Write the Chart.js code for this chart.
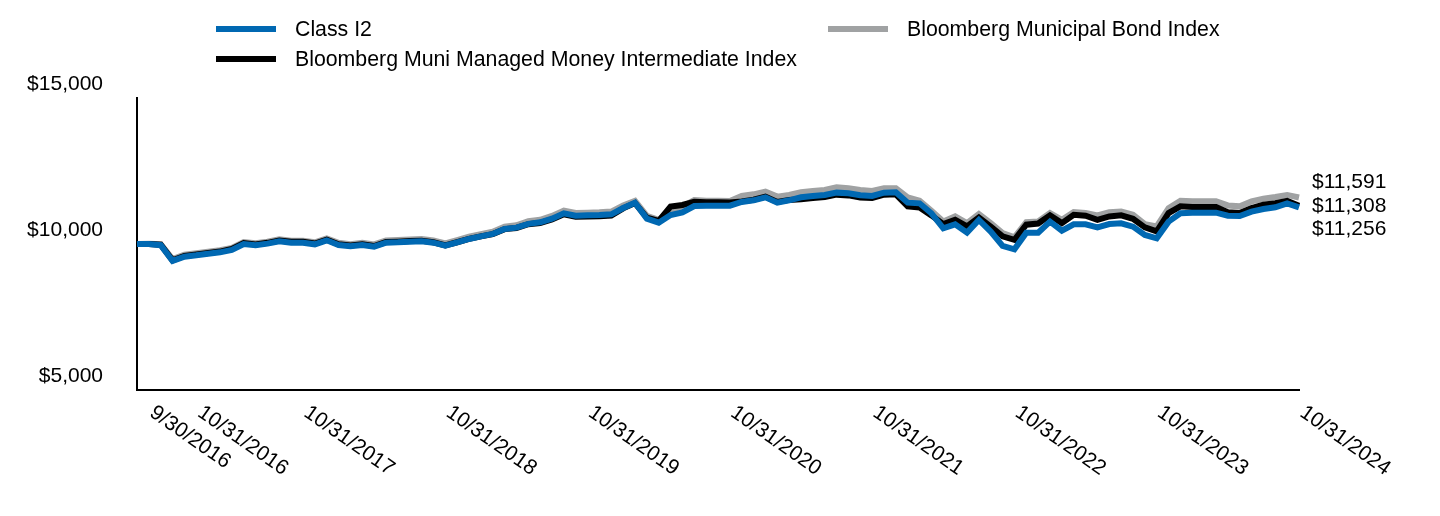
<!DOCTYPE html>
<html>
<head>
<meta charset="utf-8">
<script src="https://cdn.jsdelivr.net/npm/chart.js@4.4.1/dist/chart.umd.min.js"></script>
<style>
  body { margin: 0; background: #fff; font-family: "Liberation Sans", Arial, sans-serif; }
  #wrap { position: relative; width: 1440px; height: 516px; }
  #legend {
    position: absolute; left: 216px; top: 14px;
    display: grid; grid-auto-flow: column;
    grid-template-rows: 30px 30px; grid-template-columns: 612px auto;
  }
  .item { display: flex; align-items: center; height: 30px; font-size: 21.3px; color: #000; white-space: nowrap; }
  .swatch { width: 60px; height: 6px; margin-right: 19px; }
</style>
</head>
<body>
<div id="wrap">
  <canvas id="myChart" width="1440" height="516"></canvas>
  <div id="legend"></div>
</div>
<script>
// month-end dates, with the starting point in front
const categories = [''];
for (let y = 2016, m = 9; y < 2024 || (y === 2024 && m <= 10); ) {
  categories.push(m + '/' + new Date(y, m, 0).getDate() + '/' + y);
  m++;
  if (m > 12) { m = 1; y++; }
}

// dates written under the x axis
const tickLabels = ['9/30/2016', '10/31/2016', '10/31/2017', '10/31/2018', '10/31/2019',
  '10/31/2020', '10/31/2021', '10/31/2022', '10/31/2023', '10/31/2024'];

const yTicks = [5000, 10000, 15000];

// growth of $10,000
const classI2 = [
  10000, 10000, 9960, 9420, 9567, 9612, 9669, 9715, 9795, 10000,
  9955, 10012, 10092, 10046, 10046, 9989, 10126, 9966, 9921, 9966,
  9909, 10046, 10058, 10080, 10092, 10046, 9943, 10058, 10172, 10263,
  10343, 10514, 10560, 10690, 10742, 10868, 11051, 10971, 10982, 10994,
  11017, 11233, 11416, 10868, 10731, 10994, 11085, 11302, 11313, 11313,
  11313, 11439, 11496, 11599, 11416, 11496, 11599, 11644, 11679, 11759,
  11736, 11667, 11644, 11759, 11770, 11416, 11393, 11051, 10537, 10674,
  10389, 10823, 10423, 9932, 9818, 10389, 10389, 10765, 10457, 10674,
  10674, 10571, 10685, 10708, 10594, 10309, 10194, 10765, 11051, 11074,
  11074, 11074, 10971, 10959, 11108, 11199, 11256, 11393, 11256
];

const muniManagedMoney = [
  10000, 10000, 9975, 9440, 9590, 9640, 9695, 9740, 9830, 10030,
  9985, 10040, 10120, 10075, 10075, 10015, 10150, 9990, 9945, 9990,
  9930, 10065, 10080, 10100, 10110, 10060, 9950, 10060, 10175, 10260,
  10340, 10510, 10550, 10680, 10720, 10840, 11020, 10930, 10940, 10950,
  10975, 11220, 11400, 10900, 10790, 11280, 11336, 11450, 11430, 11430,
  11420, 11460, 11515, 11620, 11440, 11510, 11530, 11575, 11610, 11690,
  11665, 11595, 11575, 11690, 11700, 11290, 11250, 10980, 10680, 10830,
  10600, 10910, 10600, 10260, 10145, 10660, 10700, 10980, 10715, 11000,
  10970, 10830, 10945, 10980, 10865, 10570, 10430, 11060, 11290, 11265,
  11265, 11265, 11090, 11060, 11230, 11345, 11400, 11480, 11308
];

const municipalBond = [
  10000, 10010, 9990, 9480, 9630, 9680, 9735, 9785, 9865, 10070,
  10030, 10080, 10160, 10115, 10115, 10060, 10190, 10040, 9995, 10040,
  9985, 10120, 10135, 10155, 10170, 10125, 10020, 10135, 10250, 10340,
  10420, 10595, 10640, 10780, 10830, 10960, 11140, 11060, 11070, 11085,
  11110, 11320, 11480, 10960, 10830, 11165, 11280, 11508, 11485, 11485,
  11475, 11644, 11701, 11793, 11622, 11679, 11770, 11816, 11850, 11941,
  11907, 11850, 11816, 11907, 11907, 11599, 11480, 11140, 10770, 10945,
  10715, 11025, 10715, 10375, 10225, 10750, 10770, 11060, 10830, 11090,
  11060, 10980, 11090, 11115, 11000, 10680, 10600, 11230, 11480, 11460,
  11460, 11460, 11320, 11290, 11460, 11550, 11610, 11680, 11591
];

const FONT = '"Liberation Sans", Arial, sans-serif';
const money = v => '$' + v.toLocaleString('en-US');

const data = {
  labels: categories,
  datasets: [
    { label: 'Class I2', data: classI2, borderColor: '#0068b2' },
    { label: 'Bloomberg Muni Managed Money Intermediate Index', data: muniManagedMoney, borderColor: '#000000' },
    { label: 'Bloomberg Municipal Bond Index', data: municipalBond, borderColor: '#a0a2a3' }
  ]
};

// rotated dates under the axis
const xLabelsPlugin = {
  id: 'xLabels',
  afterDraw(chart) {
    const ctx = chart.ctx;
    const x = chart.scales.x;
    ctx.save();
    ctx.font = '21px ' + FONT;
    ctx.fillStyle = '#000';
    ctx.textAlign = 'left';
    ctx.textBaseline = 'top';
    let last = -1000;
    tickLabels.forEach(lab => {
      let px = x.getPixelForValue(categories.indexOf(lab)) + 9;
      if (px - last < 48) px = last + 48;
      last = px;
      ctx.save();
      ctx.translate(px, 402);
      ctx.rotate(35 * Math.PI / 180);
      ctx.fillText(lab, 0, 0);
      ctx.restore();
    });
    ctx.restore();
  }
};

// end values on the right, stacked
const endLabelsPlugin = {
  id: 'endLabels',
  afterDraw(chart) {
    const ctx = chart.ctx;
    const y = chart.scales.y;
    const ends = chart.data.datasets.map(ds => {
      const v = ds.data[ds.data.length - 1];
      return { v: v, py: y.getPixelForValue(v) };
    }).sort((a, b) => a.py - b.py);
    const mid = ends[1].py;
    ctx.save();
    ctx.font = '21px ' + FONT;
    ctx.fillStyle = '#000';
    ctx.textAlign = 'left';
    ctx.textBaseline = 'middle';
    ends.forEach((e, i) => {
      ctx.fillText(money(e.v), chart.chartArea.right + 13, mid + (i - 1) * 23.5);
    });
    ctx.restore();
  }
};

const config = {
  type: 'line',
  data: data,
  options: {
    responsive: false,
    animation: false,
    devicePixelRatio: 1,
    layout: { padding: { top: 98, right: 141, bottom: 126, left: 0 } },
    elements: {
      line: { borderWidth: 6, tension: 0, fill: false },
      point: { radius: 0 }
    },
    plugins: {
      legend: { display: false },
      tooltip: { enabled: false }
    },
    scales: {
      x: {
        grid: { display: false, drawTicks: false },
        border: { display: true, color: '#000', width: 2 },
        ticks: { display: false },
        afterFit: s => { s.height = 0; }
      },
      y: {
        min: 5000,
        max: 15000,
        grid: { display: false, drawTicks: false },
        border: { display: true, color: '#000', width: 2 },
        afterBuildTicks: s => { s.ticks = yTicks.map(v => ({ value: v })); },
        afterFit: s => { s.width = 137; },
        ticks: {
          color: '#000',
          padding: 34,
          labelOffset: -14,
          font: { family: FONT, size: 21 },
          callback: v => money(v)
        }
      }
    }
  },
  plugins: [xLabelsPlugin, endLabelsPlugin]
};

const myChart = new Chart(document.getElementById('myChart'), config);

// legend in two columns
const legend = document.getElementById('legend');
data.datasets.forEach(ds => {
  const item = document.createElement('div');
  item.className = 'item';
  item.innerHTML = '<span class="swatch" style="background:' + ds.borderColor + '"></span>' + ds.label;
  legend.appendChild(item);
});
</script>
</body>
</html>
